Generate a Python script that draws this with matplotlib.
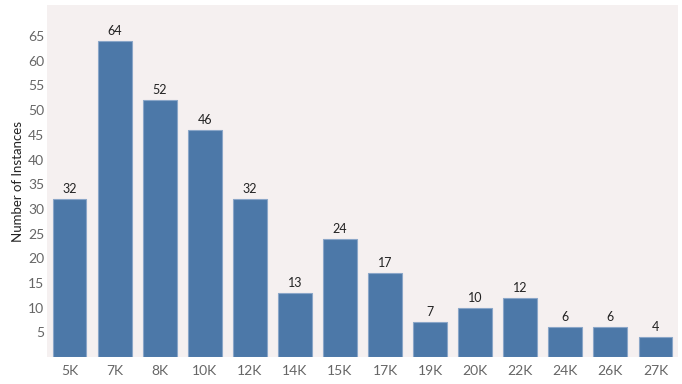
import matplotlib
matplotlib.use("Agg")
import matplotlib.pyplot as plt

sizes = ["5K", "7K", "8K", "10K", "12K", "14K", "15K", "17K", "19K", "20K", "22K", "24K", "26K", "27K"]
counts = [32, 64, 52, 46, 32, 13, 24, 17, 7, 10, 12, 6, 6, 4]
yticks = [5, 10, 15, 20, 25, 30, 35, 40, 45, 50, 55, 60, 65]

plt.rcParams['font.family'] = ['Lato', 'DejaVu Sans']

fig = plt.figure(figsize=(6.82, 3.84), dpi=100)
ax = fig.add_axes([47 / 682, 1 - 357 / 384, 631 / 682, 352 / 384])
ax.set_facecolor("#f5f0f0")

x = range(len(sizes))
bars = ax.bar(x, counts, width=0.75, color="#4c78a8", edgecolor="#8aa6c8", linewidth=0.8)
for xi, c in zip(x, counts):
    ax.text(xi, c + 0.8, str(c), ha="center", va="bottom", fontsize=9, color="#222222")

ax.set_xlim(-0.5, len(sizes) - 0.5)
ax.set_ylim(0, 71.3)
ax.set_xticks(list(x))
ax.set_xticklabels(sizes)
ax.set_yticks(yticks)
ax.tick_params(axis="both", length=0, labelsize=10, labelcolor="#666666")
ax.tick_params(axis="y", pad=2)
ax.tick_params(axis="x", pad=6)
ax.set_ylabel("Number of Instances", fontsize=9.5, color="#222222")
ax.yaxis.set_label_coords(-0.037, 0.5)
for s in ax.spines.values():
    s.set_visible(False)

fig.savefig("out.png", dpi=100)
